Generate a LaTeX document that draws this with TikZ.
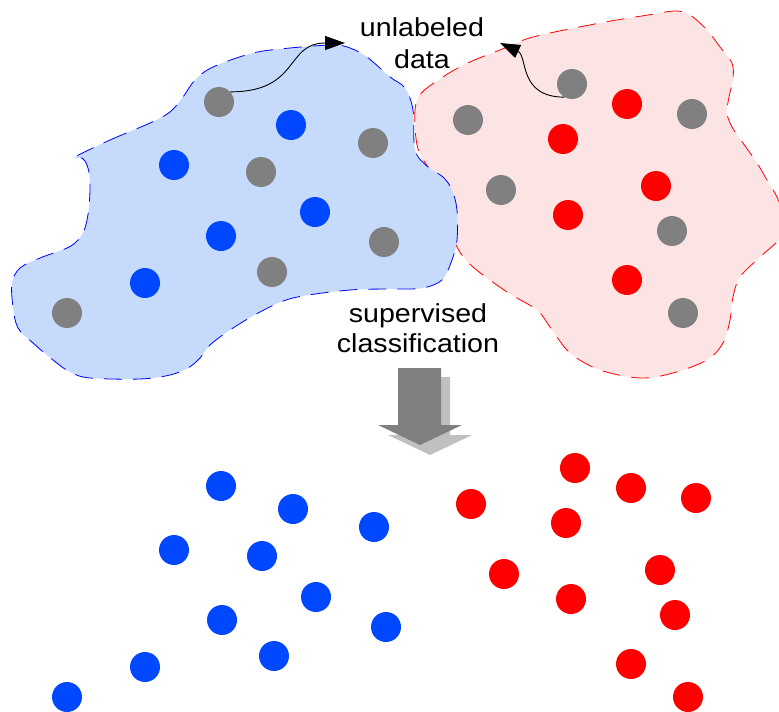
\documentclass[tikz,border=0pt]{standalone}
\usepackage{fontspec}
\setmainfont{Liberation Sans}
\newfontfamily\labfont[FakeStretch=1.1]{Liberation Sans}
\usetikzlibrary{arrows.meta}
\definecolor{dotblue}{RGB}{0,72,255}
\definecolor{dotred}{RGB}{255,0,0}
\definecolor{dotgray}{RGB}{128,128,128}
\definecolor{bluefill}{RGB}{198,219,252}
\definecolor{redfill}{RGB}{253,228,228}
\definecolor{shadowgray}{RGB}{192,192,192}
\tikzset{
  dotbase/.style={circle, minimum size=30pt, inner sep=0pt, draw=none},
  gdot/.style={dotbase, fill=dotgray},
  bdot/.style={dotbase, fill=dotblue},
  rdot/.style={dotbase, fill=dotred},
  blobline/.style={line width=0.8pt, dash pattern=on 18pt off 11pt},
  lbl/.style={anchor=base, inner sep=0pt, font=\labfont\fontsize{26}{30}\selectfont},
  pointer/.style={black, line width=0.9pt, -{Triangle[length=20pt,width=14pt]}}
}
\begin{document}
\begin{tikzpicture}[x=1pt,y=-1pt]
\useasboundingbox (0,0) rectangle (779,712);
% red blob
\draw[blobline, draw=dotred, fill=redfill] plot[smooth cycle, tension=0.55] coordinates {
 (417,100) (443,77) (470,62) (500,50) (533,37) (600,23) (648,15) (675,11) (690,15)
 (707,30) (720,47) (732,63) (733,79) (729,97) (727,113) (732,127) (743,143) (757,163)
 (767,180) (777,197) (783,215) (783,235) (760,257) (740,277) (733,297) (730,320)
 (723,343) (707,360) (673,373) (640,378) (600,370) (570,353) (550,327) (537,310)
 (507,292) (473,267) (457,247) (450,220) (445,190) (430,170) (417,145)};
% blue blob
\draw[blobline, draw=blue, fill=bluefill] plot[smooth cycle, tension=0.55] coordinates {
 (75,157) (110,140) (150,123) (170,112) (183,97) (195,80) (213,67) (253,53) (290,48)
 (333,45) (350,48) (367,57) (390,77) (405,88) (413,110) (415,150) (428,167) (443,177)
 (452,190) (457,210) (457,240) (452,260) (442,280) (423,288) (400,289) (350,290)
 (293,298) (260,312) (230,330) (210,345) (200,358) (188,368) (170,375) (140,379)
 (90,378) (70,372) (53,360) (33,343) (18,328) (13,307) (12,283) (20,268) (40,258)
 (67,248) (78,240) (85,228) (89,207) (90,180) (87,165) (82,158)};
% top dots, left cluster
\foreach \x/\y [count=\i] in {219/102,373/143,261/172,384/242,272/272,67/313}
  \node[gdot] (gl\i) at (\x,\y) {};
\foreach \x/\y [count=\i] in {291/125,174/165,315/212,221/236,145/283}
  \node[bdot] (bl\i) at (\x,\y) {};
% top dots, right cluster
\foreach \x/\y [count=\i] in {572/84,692/114,468/120,501/190,672/231,683/313}
  \node[gdot] (gr\i) at (\x,\y) {};
\foreach \x/\y [count=\i] in {627/104,563/139,656/186,568/215,627/280}
  \node[rdot] (rr\i) at (\x,\y) {};
% bottom dots
\foreach \x/\y [count=\i] in {221/486,293/509,374/527,174/550,262/556,316/597,222/620,386/627,274/656,145/667,67/697}
  \node[bdot] (bb\i) at (\x,\y) {};
\foreach \x/\y [count=\i] in {575/468,631/488,696/498,471/504,566/523,504/574,660/570,571/599,675/615,631/664,688/697}
  \node[rdot] (rb\i) at (\x,\y) {};
% pointers
\coordinate (tipL) at (345,43);
\coordinate (tipR) at (500,43);
\draw[pointer] (gl1.42) .. controls (300,92) and (285,43) .. (tipL);
\draw[pointer] (gr1.240) .. controls (518,97) and (528,56) .. (tipR);
% labels
\node[lbl] (t1) at (422,36) {unlabeled};
\node[lbl] (t2) at (422,68) {data};
\node[lbl] (t3) at (418,322) {supervised};
\node[lbl] (t4) at (418,352) {classification};
% block arrow with shadow
\fill[shadowgray] (407,377) -- (450,377) -- (450,435) -- (472,435) -- (430,455) -- (388,435) -- (407,435) -- cycle;
\fill[dotgray] (398,368) -- (441,368) -- (441,425) -- (462,425) -- (420,445) -- (378,425) -- (398,425) -- cycle;
\end{tikzpicture}
\end{document}
